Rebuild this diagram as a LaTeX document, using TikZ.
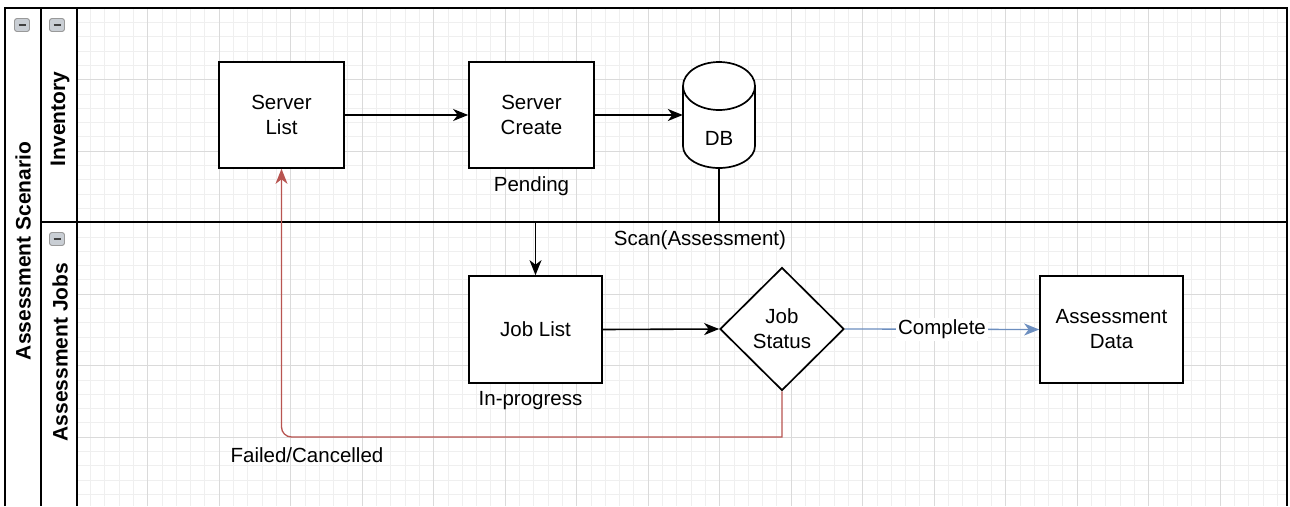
\documentclass[tikz,border=0pt]{standalone}
\usepackage{fontspec}
\setmainfont{Liberation Sans}
\usepackage{tikz}
\usetikzlibrary{arrows.meta,positioning,shapes.geometric}
\usepackage{xcolor}
\definecolor{LaneRed}{HTML}{B85450}
\definecolor{LaneBlue}{HTML}{6C8EBF}
\definecolor{GridMinor}{HTML}{EFEFEF}
\definecolor{GridMajor}{HTML}{DADADA}
\definecolor{FoldGray}{HTML}{C9CED4}
\newcommand{\boxfont}{\fontsize{20.5}{25}\selectfont}
\newcommand{\lanefont}{\bfseries\fontsize{21}{25}\selectfont}

\begin{document}
\begin{tikzpicture}[x=1pt, y=-1pt,
    every node/.style={font=\boxfont, align=center},
    procbox/.style={draw, line width=1.7pt, fill=white, inner sep=0pt, minimum height=106pt},
    decision/.style={diamond, draw, line width=1.7pt, fill=white, inner sep=0pt, minimum width=124pt, minimum height=123pt},
    edgetext/.style={inner sep=2pt, text=black},
    lanetitle/.style={font=\lanefont, rotate=90},
    foldbox/.style={draw=gray!80, fill=FoldGray, rounded corners=2.5pt, line width=0.9pt, minimum width=15pt, minimum height=13pt, inner sep=0pt, text=gray!50!black},
    lanerule/.style={line width=1.9pt},
    flow/.style={-{Stealth[length=15pt,width=12pt,inset=4.5pt]}, line width=1.6pt},
    failline/.style={LaneRed, line width=1.3pt},
    doneline/.style={LaneBlue, line width=1.3pt}
  ]
    \useasboundingbox (0,0) rectangle (1290,506);
    \fill[white] (0,0) rectangle (1290,506);
    \begin{scope}[shift={(76,8)}]
      \draw[GridMinor, line width=0.5pt, step=14.3pt] (0,0) grid (1211,498);
      \draw[GridMajor, line width=0.7pt, step=71.5pt] (0,0) grid (1211,498);
    \end{scope}

    \draw[lanerule] (5,506) -- (5,8) -- (1287,8) -- (1287,506);
    \draw[lanerule] (41,8) -- (41,506);
    \draw[lanerule] (77,8) -- (77,506);
    \draw[lanerule] (41,222) -- (1287,222);

    \node[foldbox] (fold1) at (22,25) {\rule{7pt}{1.3pt}};
    \node[foldbox] (fold2) at (57,25) {\rule{7pt}{1.3pt}};
    \node[foldbox] (fold3) at (57,239) {\rule{7pt}{1.3pt}};
    \node[lanetitle] (pooltitle) at (23,251) {Assessment Scenario};
    \node[lanetitle] (invtitle) at (60,119) {Inventory};
    \node[lanetitle] (jobtitle) at (60,352) {Assessment Jobs};

    \node[procbox,minimum width=125pt] (slist) at (281.5,115) {Server\\List};
    \node[procbox,minimum width=125pt] (screate) at (531.5,115) {Server\\Create};
    \node[edgetext,below=6pt of screate] (pending) {Pending};

    \draw[line width=1.7pt,fill=white] (683,86) -- (683,146) arc[start angle=180,end angle=360,x radius=36pt,y radius=22pt] -- (755,86) arc[start angle=0,end angle=180,x radius=36pt,y radius=24pt] -- cycle;
    \draw[line width=1.7pt] (683,86) arc[start angle=180,end angle=360,x radius=36pt,y radius=24pt];
    \node[minimum width=72pt,minimum height=106pt,inner sep=0pt,label={[yshift=-23pt]center:DB}] (db) at (719,115) {};

    \node[procbox,minimum width=133pt,minimum height=107pt] (jlist) at (535.5,329.5) {Job List};
    \node[edgetext,below=5pt of jlist,xshift=-5pt] (inprog) {In-progress};
    \node[decision] (jstatus) at (782,329) {Job\\Status};
    \node[procbox,minimum width=143pt,minimum height=107pt] (adata) at (1111.5,329.5) {Assessment\\Data};

    \draw[flow] (slist) -- (screate);
    \draw[flow] (screate) -- (db);
    \coordinate (scanfork) at (719,222);
    \draw[flow] (db.south) -- (scanfork) -| (jlist.north);
    \node[edgetext] (scanlbl) at (700,240) {Scan(Assessment)};
    \draw[flow] (jlist.east) -- (jstatus.west);
    \draw[flow,doneline] (jstatus.east) -- node[edgetext,fill=white] (donelbl) {Complete} (adata.west);
    \coordinate (failbend) at (782,437);
    \draw[flow,failline] (jstatus.south) -- (failbend) [rounded corners=10pt] -| (slist.south);
    \node[edgetext] (faillbl) at (307,455) {Failed/Cancelled};
  \end{tikzpicture}
\end{document}
